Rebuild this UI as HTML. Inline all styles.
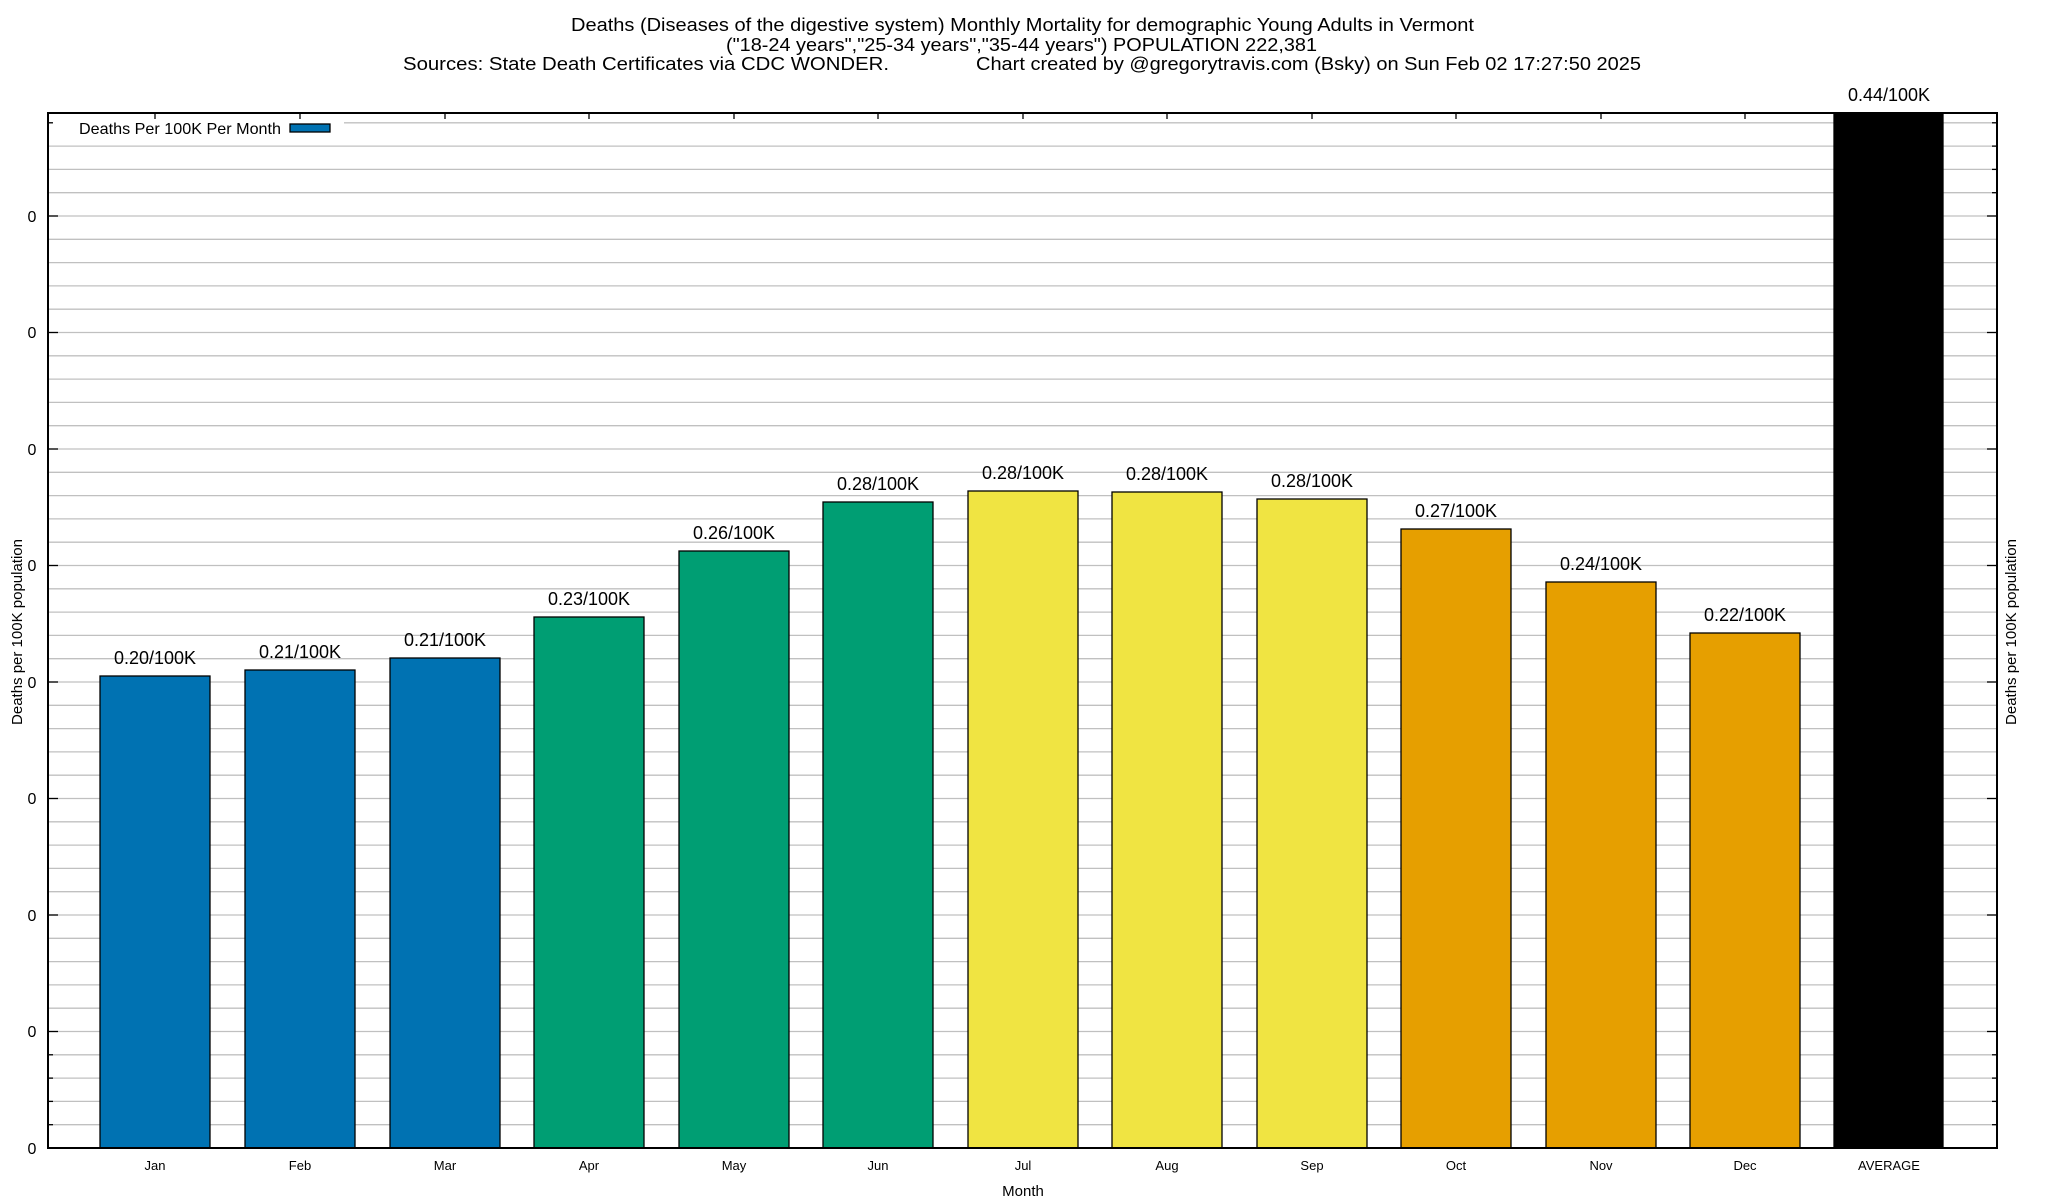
<!DOCTYPE html>
<html><head><meta charset="utf-8"><style>body{margin:0;background:#fff}svg{display:block}</style></head><body>
<svg width="2048" height="1200" xmlns="http://www.w3.org/2000/svg" font-family="Liberation Sans, sans-serif">
<rect width="2048" height="1200" fill="#fff"/>
<g font-size="18" fill="#000">
<text x="571" y="31" textLength="903" lengthAdjust="spacingAndGlyphs">Deaths (Diseases of the digestive system) Monthly Mortality for demographic Young Adults in Vermont</text>
<text x="726" y="51" textLength="591" lengthAdjust="spacingAndGlyphs">("18-24 years","25-34 years","35-44 years") POPULATION 222,381</text>
<text x="403" y="70" textLength="486" lengthAdjust="spacingAndGlyphs">Sources: State Death Certificates via CDC WONDER.</text>
<text x="976" y="70" textLength="665" lengthAdjust="spacingAndGlyphs">Chart created by @gregorytravis.com (Bsky) on Sun Feb 02 17:27:50 2025</text>
</g>
<g stroke="#c0c0c0" stroke-width="1.3">
<line x1="48" x2="1997" y1="1124.7" y2="1124.7"/><line x1="48" x2="1997" y1="1101.4" y2="1101.4"/><line x1="48" x2="1997" y1="1078.1" y2="1078.1"/><line x1="48" x2="1997" y1="1054.8" y2="1054.8"/><line x1="48" x2="1997" y1="1031.5" y2="1031.5"/><line x1="48" x2="1997" y1="1008.2" y2="1008.2"/><line x1="48" x2="1997" y1="984.9" y2="984.9"/><line x1="48" x2="1997" y1="961.6" y2="961.6"/><line x1="48" x2="1997" y1="938.3" y2="938.3"/><line x1="48" x2="1997" y1="915" y2="915"/><line x1="48" x2="1997" y1="891.7" y2="891.7"/><line x1="48" x2="1997" y1="868.4" y2="868.4"/><line x1="48" x2="1997" y1="845.1" y2="845.1"/><line x1="48" x2="1997" y1="821.8" y2="821.8"/><line x1="48" x2="1997" y1="798.5" y2="798.5"/><line x1="48" x2="1997" y1="775.2" y2="775.2"/><line x1="48" x2="1997" y1="751.9" y2="751.9"/><line x1="48" x2="1997" y1="728.6" y2="728.6"/><line x1="48" x2="1997" y1="705.3" y2="705.3"/><line x1="48" x2="1997" y1="682" y2="682"/><line x1="48" x2="1997" y1="658.7" y2="658.7"/><line x1="48" x2="1997" y1="635.4" y2="635.4"/><line x1="48" x2="1997" y1="612.1" y2="612.1"/><line x1="48" x2="1997" y1="588.8" y2="588.8"/><line x1="48" x2="1997" y1="565.5" y2="565.5"/><line x1="48" x2="1997" y1="542.2" y2="542.2"/><line x1="48" x2="1997" y1="518.9" y2="518.9"/><line x1="48" x2="1997" y1="495.6" y2="495.6"/><line x1="48" x2="1997" y1="472.3" y2="472.3"/><line x1="48" x2="1997" y1="449" y2="449"/><line x1="48" x2="1997" y1="425.7" y2="425.7"/><line x1="48" x2="1997" y1="402.4" y2="402.4"/><line x1="48" x2="1997" y1="379.1" y2="379.1"/><line x1="48" x2="1997" y1="355.8" y2="355.8"/><line x1="48" x2="1997" y1="332.5" y2="332.5"/><line x1="48" x2="1997" y1="309.2" y2="309.2"/><line x1="48" x2="1997" y1="285.9" y2="285.9"/><line x1="48" x2="1997" y1="262.6" y2="262.6"/><line x1="48" x2="1997" y1="239.3" y2="239.3"/><line x1="48" x2="1997" y1="216" y2="216"/><line x1="48" x2="1997" y1="192.7" y2="192.7"/><line x1="48" x2="1997" y1="169.4" y2="169.4"/><line x1="48" x2="1997" y1="146.1" y2="146.1"/><line x1="48" x2="1997" y1="122.8" y2="122.8"/>
</g>
<rect x="52" y="116" width="292" height="24" fill="#fff"/>
<g stroke="#000" stroke-width="1.3">
<rect x="100" y="676" width="110" height="472" fill="#0072b2"/>
<rect x="245" y="670" width="110" height="478" fill="#0072b2"/>
<rect x="390" y="658" width="110" height="490" fill="#0072b2"/>
<rect x="534" y="617" width="110" height="531" fill="#009e73"/>
<rect x="679" y="551" width="110" height="597" fill="#009e73"/>
<rect x="823" y="502" width="110" height="646" fill="#009e73"/>
<rect x="968" y="491" width="110" height="657" fill="#f0e442"/>
<rect x="1112" y="492" width="110" height="656" fill="#f0e442"/>
<rect x="1257" y="499" width="110" height="649" fill="#f0e442"/>
<rect x="1401" y="529" width="110" height="619" fill="#e69f00"/>
<rect x="1546" y="582" width="110" height="566" fill="#e69f00"/>
<rect x="1690" y="633" width="110" height="515" fill="#e69f00"/>
<rect x="1834" y="113" width="109" height="1035" fill="#000"/>
<rect x="48" y="113" width="1949" height="1035" fill="none" stroke-width="2"/>
<rect x="290" y="124" width="40" height="8" fill="#0072b2"/>
</g>
<g stroke="#000" stroke-width="1.3">
<line x1="48" x2="58" y1="1148" y2="1148"/><line x1="48" x2="58" y1="1031.5" y2="1031.5"/><line x1="48" x2="58" y1="915" y2="915"/><line x1="48" x2="58" y1="798.5" y2="798.5"/><line x1="48" x2="58" y1="682" y2="682"/><line x1="48" x2="58" y1="565.5" y2="565.5"/><line x1="48" x2="58" y1="449" y2="449"/><line x1="48" x2="58" y1="332.5" y2="332.5"/><line x1="48" x2="58" y1="216" y2="216"/>
<line x1="1987" x2="1997" y1="1031.5" y2="1031.5"/><line x1="1987" x2="1997" y1="915" y2="915"/><line x1="1987" x2="1997" y1="798.5" y2="798.5"/><line x1="1987" x2="1997" y1="682" y2="682"/><line x1="1987" x2="1997" y1="565.5" y2="565.5"/><line x1="1987" x2="1997" y1="449" y2="449"/><line x1="1987" x2="1997" y1="332.5" y2="332.5"/><line x1="1987" x2="1997" y1="216" y2="216"/>
<line x1="155" x2="155" y1="113" y2="119"/><line x1="300" x2="300" y1="113" y2="119"/><line x1="445" x2="445" y1="113" y2="119"/><line x1="589" x2="589" y1="113" y2="119"/><line x1="734" x2="734" y1="113" y2="119"/><line x1="878" x2="878" y1="113" y2="119"/><line x1="1023" x2="1023" y1="113" y2="119"/><line x1="1167" x2="1167" y1="113" y2="119"/><line x1="1312" x2="1312" y1="113" y2="119"/><line x1="1456" x2="1456" y1="113" y2="119"/><line x1="1601" x2="1601" y1="113" y2="119"/><line x1="1745" x2="1745" y1="113" y2="119"/>
</g>
<g stroke="#000" stroke-width="1.3">
<line x1="48" x2="53" y1="1124.7" y2="1124.7"/><line x1="48" x2="53" y1="1101.4" y2="1101.4"/><line x1="48" x2="53" y1="1078.1" y2="1078.1"/><line x1="48" x2="53" y1="1054.8" y2="1054.8"/><line x1="48" x2="53" y1="122.8" y2="122.8"/>
<line x1="1992" x2="1997" y1="1124.7" y2="1124.7"/><line x1="1992" x2="1997" y1="1101.4" y2="1101.4"/><line x1="1992" x2="1997" y1="1078.1" y2="1078.1"/><line x1="1992" x2="1997" y1="1054.8" y2="1054.8"/><line x1="1992" x2="1997" y1="122.8" y2="122.8"/><line x1="1992" x2="1997" y1="146.1" y2="146.1"/><line x1="1992" x2="1997" y1="169.4" y2="169.4"/><line x1="1992" x2="1997" y1="192.7" y2="192.7"/>
</g>
<g font-size="16" text-anchor="middle">
<text x="32" y="1154">0</text><text x="32" y="1037">0</text><text x="32" y="921">0</text><text x="32" y="804">0</text><text x="32" y="688">0</text><text x="32" y="571">0</text><text x="32" y="455">0</text><text x="32" y="338">0</text><text x="32" y="222">0</text>
</g>
<g font-size="18" text-anchor="middle">
<text x="155" y="664">0.20/100K</text><text x="300" y="658">0.21/100K</text><text x="445" y="646">0.21/100K</text><text x="589" y="605">0.23/100K</text><text x="734" y="539">0.26/100K</text><text x="878" y="490">0.28/100K</text><text x="1023" y="479">0.28/100K</text><text x="1167" y="480">0.28/100K</text><text x="1312" y="487">0.28/100K</text><text x="1456" y="517">0.27/100K</text><text x="1601" y="570">0.24/100K</text><text x="1745" y="621">0.22/100K</text><text x="1889" y="101">0.44/100K</text>
</g>
<g font-size="13" text-anchor="middle">
<text x="155" y="1170">Jan</text><text x="300" y="1170">Feb</text><text x="445" y="1170">Mar</text><text x="589" y="1170">Apr</text><text x="734" y="1170">May</text><text x="878" y="1170">Jun</text><text x="1023" y="1170">Jul</text><text x="1167" y="1170">Aug</text><text x="1312" y="1170">Sep</text><text x="1456" y="1170">Oct</text><text x="1601" y="1170">Nov</text><text x="1745" y="1170">Dec</text><text x="1889" y="1170">AVERAGE</text>
</g>
<text x="1023" y="1196" font-size="15" text-anchor="middle">Month</text>
<text font-size="15" text-anchor="middle" transform="translate(22,632) rotate(-90)">Deaths per 100K population</text>
<text font-size="15" text-anchor="middle" transform="translate(2016,632) rotate(-90)">Deaths per 100K population</text>
<text x="79" y="134" font-size="16" textLength="202" lengthAdjust="spacingAndGlyphs">Deaths Per 100K Per Month</text>
</svg>
</body></html>
